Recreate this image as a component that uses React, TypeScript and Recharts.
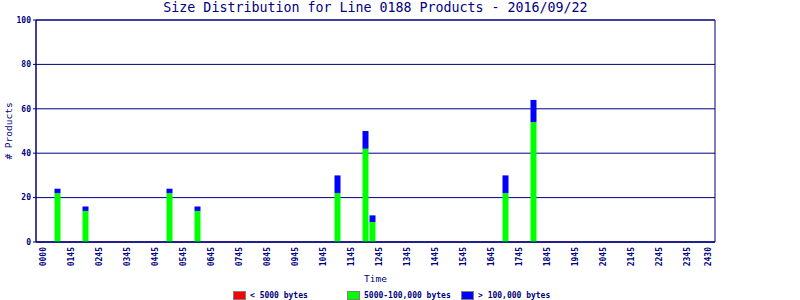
import React from 'react';
import {
  BarChart,
  Bar,
  XAxis,
  YAxis,
  CartesianGrid,
  ReferenceArea,
  Legend,
} from 'recharts';

// hour bins (hours after the "0000" tick), quarter-hour resolution
const hours = [0.5, 1.5, 4.5, 5.5, 10.5, 11.5, 11.75, 16.5, 17.5];
const small = [0, 0, 0, 0, 0, 0, 0, 0, 0];
const medium = [22, 14, 22, 14, 22, 42, 9, 22, 54];
const large = [2, 2, 2, 2, 8, 8, 3, 8, 10];

const tickValues = [
  0, 1, 2, 3, 4, 5, 6, 7, 8, 9, 10, 11, 12, 13, 14, 15, 16, 17, 18, 19, 20, 21, 22, 23, 23.75,
];
const tickLabels = [
  '0000', '0145', '0245', '0345', '0445', '0545', '0645', '0745', '0845', '0945',
  '1045', '1145', '1245', '1345', '1445', '1545', '1645', '1745', '1845', '1945',
  '2045', '2145', '2245', '2345', '2430',
];

const seriesNames = ['< 5000 bytes', '5000-100,000 bytes', '> 100,000 bytes'];

const data = hours.map((h, i) => ({
  t: h,
  small: small[i],
  medium: medium[i],
  large: large[i],
}));

const NAVY = '#000080';
const MONO = '"DejaVu Sans Mono", monospace';

function TimeTick(props: any) {
  const { x, payload } = props;
  const idx = tickValues.indexOf(payload.value);
  const y = 247;
  return (
    <text
      x={x}
      y={y}
      transform={`rotate(-90, ${x}, ${y})`}
      textAnchor="end"
      dominantBaseline="central"
      fontFamily={MONO}
      fontSize={8}
      fontWeight="bold"
      fill={NAVY}
    >
      {tickLabels[idx]}
    </text>
  );
}

function LegendContent(props: any) {
  const items = [...(props.payload || [])].sort(
    (a: any, b: any) => seriesNames.indexOf(a.value) - seriesNames.indexOf(b.value)
  );
  return (
    <div
      style={{
        display: 'flex',
        justifyContent: 'flex-start',
        paddingLeft: 233,
        paddingTop: 4,
        boxSizing: 'border-box',
        height: 14,
        alignItems: 'center',
        fontFamily: MONO,
        fontSize: 8,
        fontWeight: 'bold',
        color: NAVY,
      }}
    >
      {items.map((it: any) => (
        <div key={it.value} style={{ width: 114, flex: '0 0 114px', display: 'flex', alignItems: 'center' }}>
          <span
            style={{
              display: 'inline-block',
              width: 11,
              height: 7,
              background: it.color,
              border: '1px solid #808080',
              marginRight: 4,
            }}
          />
          <span style={{ whiteSpace: 'nowrap' }}>{it.value}</span>
        </div>
      ))}
    </div>
  );
}

export default function App() {
  return (
    <div style={{ position: 'absolute', left: 0, top: 0, width: 800, height: 300, background: '#fff' }}>
      <div
        style={{
          position: 'absolute',
          left: 36,
          width: 679,
          top: 0,
          textAlign: 'center',
          fontFamily: MONO,
          fontSize: 13.3,
          lineHeight: '16px',
          color: NAVY,
        }}
      >
        Size Distribution for Line 0188 Products - 2016/09/22
      </div>
      <BarChart
        width={800}
        height={300}
        data={data}
        margin={{ top: 20, right: 85, bottom: 0, left: 0 }}
        barSize={6}
      >
        <CartesianGrid stroke={NAVY} vertical={false} strokeWidth={1} />
        <ReferenceArea
          x1={-0.25}
          x2={24}
          y1={0}
          y2={100}
          fill="none"
          stroke={NAVY}
          strokeWidth={1}
          ifOverflow="extendDomain"
        />
        <XAxis
          dataKey="t"
          type="number"
          domain={[-0.25, 24]}
          ticks={tickValues}
          interval={0}
          height={44}
          axisLine={{ stroke: NAVY }}
          tickLine={false}
          tick={<TimeTick />}
          allowDataOverflow
          label={{
            content: ({ viewBox }: any) => (
              <text
                x={viewBox.x + viewBox.width / 2}
                y={viewBox.y + 36}
                textAnchor="middle"
                dominantBaseline="central"
                fontFamily={MONO}
                fontSize={9.5}
                fill={NAVY}
              >
                Time
              </text>
            ),
          }}
        />
        <YAxis
          domain={[0, 100]}
          ticks={[0, 20, 40, 60, 80, 100]}
          width={36}
          axisLine={{ stroke: NAVY }}
          tickLine={{ stroke: NAVY }}
          tickSize={3}
          tickMargin={2}
          tick={{ fill: NAVY, fontFamily: MONO, fontSize: 8, fontWeight: 'bold' }}
          label={{
            content: ({ viewBox }: any) => {
              const cx = 8;
              const cy = viewBox.y + viewBox.height / 2;
              return (
                <text
                  x={cx}
                  y={cy}
                  transform={`rotate(-90, ${cx}, ${cy})`}
                  textAnchor="middle"
                  dominantBaseline="central"
                  fontFamily={MONO}
                  fontSize={9.5}
                  fill={NAVY}
                >
                  # Products
                </text>
              );
            },
          }}
        />
        <Legend verticalAlign="bottom" height={14} content={<LegendContent />} />
        <Bar dataKey="small" name={seriesNames[0]} stackId="a" fill="#ff0000" isAnimationActive={false} />
        <Bar dataKey="medium" name={seriesNames[1]} stackId="a" fill="#00ff00" isAnimationActive={false} />
        <Bar dataKey="large" name={seriesNames[2]} stackId="a" fill="#0000ff" isAnimationActive={false} />
      </BarChart>
    </div>
  );
}
